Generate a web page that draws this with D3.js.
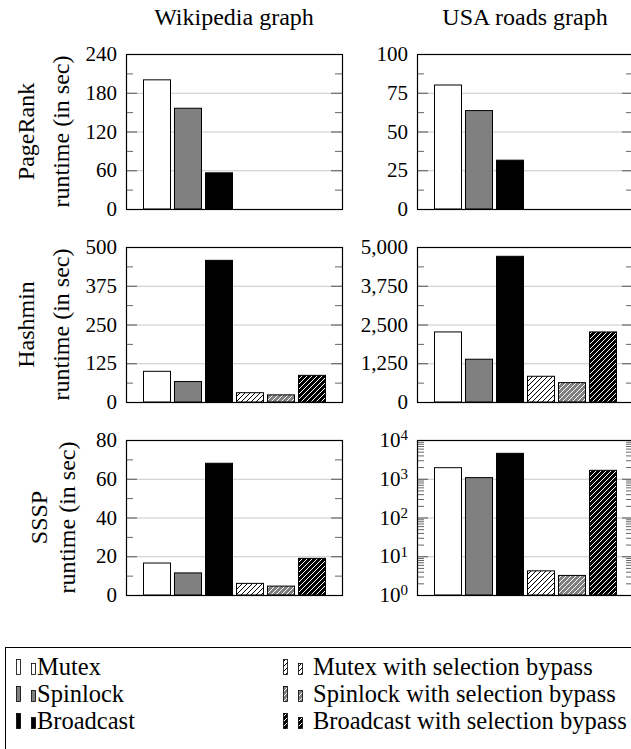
<!DOCTYPE html>
<html>
<head>
<meta charset="utf-8">
<script src="https://cdn.jsdelivr.net/npm/d3@7/dist/d3.min.js"></script>
<style>
body { margin: 0; background: #fff; }
text { font-family: "Liberation Serif", serif; fill: #000; }
</style>
</head>
<body>
<div id="chart"></div>
<script>
var width = 631,
    height = 749;

// data
var series = ["Mutex", "Spinlock", "Broadcast",
              "Mutex with selection bypass", "Spinlock with selection bypass", "Broadcast with selection bypass"];
var graphs = ["Wikipedia graph", "USA roads graph"];
var algorithms = ["PageRank", "Hashmin", "SSSP"];

var wikiPageRank = [200, 156, 56, null, null, null];
var usaPageRank  = [80, 63.5, 31.5, null, null, null];
var wikiHashmin  = [99, 66, 457, 30, 23, 86];
var usaHashmin   = [2260, 1380, 4700, 830, 625, 2260];
var wikiSSSP     = [16.5, 11.4, 68, 6, 4.6, 18.9];
var usaSSSP      = [1930, 1070, 4530, 4.2, 3.2, 1650];

var ticksWikiPageRank = [0, 60, 120, 180, 240];
var ticksUsaPageRank  = [0, 25, 50, 75, 100];
var ticksWikiHashmin  = [0, 125, 250, 375, 500];
var ticksUsaHashmin   = [0, 1250, 2500, 3750, 5000];
var ticksWikiSSSP     = [0, 20, 40, 60, 80];
var ticksUsaSSSP      = [1, 10, 100, 1000, 10000];

// styles
var fills  = ["#fff", "#808080", "#000", "#fff", "#808080", "#000"];
var hatch  = [null, null, null, "#000", "#fff", "#fff"];

var pw = 216, ph = 155;
var colX = [126, 417], rowY = [54, 247, 440];
var labelX = [[-92, -57], [-92, -57], [-79, -51]];

var panels = [
    {row: 0, col: 0, values: wikiPageRank, ticks: ticksWikiPageRank},
    {row: 0, col: 1, values: usaPageRank,  ticks: ticksUsaPageRank},
    {row: 1, col: 0, values: wikiHashmin,  ticks: ticksWikiHashmin},
    {row: 1, col: 1, values: usaHashmin,   ticks: ticksUsaHashmin},
    {row: 2, col: 0, values: wikiSSSP,     ticks: ticksWikiSSSP},
    {row: 2, col: 1, values: usaSSSP,      ticks: ticksUsaSSSP, log: true}
];

var svg = d3.select("#chart")
    .append("svg")
    .attr("width", width)
    .attr("height", height);

// hatch patterns
var defs = svg.append("defs");
series.forEach(function(s, i) {
    if (!hatch[i]) return;
    var p = defs.append("pattern")
        .attr("id", "hatch" + i)
        .attr("patternUnits", "userSpaceOnUse")
        .attr("width", 5)
        .attr("height", 5);
    p.append("rect").attr("width", 5).attr("height", 5).attr("fill", fills[i]);
    p.append("path")
        .attr("d", "M-1,1 l2,-2 M0,5 l5,-5 M4,6 l2,-2")
        .attr("stroke", hatch[i])
        .attr("stroke-width", 1);
});
function fillOf(i) { return hatch[i] ? "url(#hatch" + i + ")" : fills[i]; }

var x = d3.scaleBand()
    .domain(series)
    .range([0, pw])
    .paddingInner(4 / 31)
    .paddingOuter(0.548);

// column titles
graphs.forEach(function(t, c) {
    svg.append("text")
        .attr("x", colX[c] + pw / 2)
        .attr("y", 25)
        .attr("text-anchor", "middle")
        .style("font-size", "24px")
        .text(t);
});

panels.forEach(function(p) {
    var g = svg.append("g")
        .attr("transform", "translate(" + colX[p.col] + "," + rowY[p.row] + ")");

    var y, minor;
    if (p.log) {
        y = d3.scaleLog().domain([1, 10000]).range([ph, 0]);
        minor = [];
        for (var k = 0; k < 4; k++)
            for (var m = 2; m < 10; m++) minor.push(m * Math.pow(10, k));
    } else {
        y = d3.scaleLinear().domain([0, p.ticks[p.ticks.length - 1]]).range([ph, 0]);
        minor = d3.pairs(p.ticks).map(function(d) { return (d[0] + d[1]) / 2; });
    }
    var inner = p.ticks.slice(1, -1);

    // grid lines
    g.append("g")
        .call(d3.axisLeft(y).tickValues(inner).tickSize(-pw).tickFormat(""))
        .call(function(a) {
            a.select(".domain").remove();
            a.selectAll("line").attr("stroke", "#c8c8c8");
        });

    // bars
    var base = p.log ? y(1) : y(0);
    g.selectAll(".bar")
        .data(p.values.map(function(v, i) { return {s: series[i], v: v, i: i}; })
            .filter(function(d) { return d.v != null; }))
        .enter().append("rect")
        .attr("x", function(d) { return x(d.s) + 0.5; })
        .attr("y", function(d) { return y(d.v); })
        .attr("width", x.bandwidth())
        .attr("height", function(d) { return base - y(d.v); })
        .attr("fill", function(d) { return fillOf(d.i); })
        .attr("stroke", "#000")
        .attr("stroke-width", 1);

    // tick marks, both sides, pointing inwards
    [[d3.axisLeft, 0], [d3.axisRight, pw]].forEach(function(a) {
        g.append("g")
            .attr("transform", "translate(" + a[1] + ",0)")
            .call(a[0](y).tickValues(minor).tickSize(-7).tickFormat(""))
            .call(function(s) { s.select(".domain").remove(); s.selectAll("line").attr("stroke", "#666"); });
        g.append("g")
            .attr("transform", "translate(" + a[1] + ",0)")
            .call(a[0](y).tickValues(inner).tickSize(-11).tickFormat(""))
            .call(function(s) { s.select(".domain").remove(); s.selectAll("line").attr("stroke", "#555"); });
    });

    // tick labels
    var fmt = d3.format(",");
    var lab = g.append("g")
        .call(d3.axisLeft(y).tickValues(p.ticks).tickSize(0).tickPadding(9)
            .tickFormat(p.log ? function() { return "10"; } : fmt));
    lab.select(".domain").remove();
    lab.selectAll("text")
        .attr("font-family", null)
        .style("font-size", "21px")
        .attr("fill", "#000");
    if (p.log) {
        lab.selectAll(".tick text").each(function(d) {
            d3.select(this).append("tspan")
                .attr("dy", "-0.45em")
                .style("font-size", "15px")
                .text(Math.round(Math.log10(d)));
        });
    }

    // frame
    g.append("rect")
        .attr("x", 0.5).attr("y", 0.5)
        .attr("width", pw).attr("height", ph)
        .attr("fill", "none")
        .attr("stroke", "#000")
        .attr("stroke-width", 1.2);

    // y label
    if (p.col == 0) {
        var lx = labelX[p.row];
        g.append("text")
            .attr("transform", "translate(" + lx[0] + "," + ph / 2 + ") rotate(-90)")
            .attr("text-anchor", "middle")
            .style("font-size", "24px")
            .text(algorithms[p.row]);
        g.append("text")
            .attr("transform", "translate(" + lx[1] + "," + ph / 2 + ") rotate(-90)")
            .attr("text-anchor", "middle")
            .style("font-size", "24px")
            .text("runtime (in sec)");
    }
});

// legend
var leg = svg.append("g");
leg.append("rect")
    .attr("x", 5.5).attr("y", 647.5)
    .attr("width", 700).attr("height", 200)
    .attr("fill", "none")
    .attr("stroke", "#000")
    .attr("stroke-width", 1);

var legCol = [16, 283], legText = [37, 313], legRow = [675, 702, 729];
series.forEach(function(s, i) {
    var c = Math.floor(i / 3), cx = legCol[c], by = legRow[i % 3];
    leg.append("rect")
        .attr("x", cx + 0.5).attr("y", by - 15.5)
        .attr("width", 4).attr("height", 15)
        .attr("fill", fillOf(i)).attr("stroke", "#000").attr("stroke-width", 0.8);
    leg.append("rect")
        .attr("x", cx + 15.5).attr("y", by - 11.5)
        .attr("width", 4).attr("height", 11)
        .attr("fill", fillOf(i)).attr("stroke", "#000").attr("stroke-width", 0.8);
    leg.append("text")
        .attr("x", legText[c])
        .attr("y", by)
        .style("font-size", "24.5px")
        .text(s);
});
</script>
</body>
</html>
